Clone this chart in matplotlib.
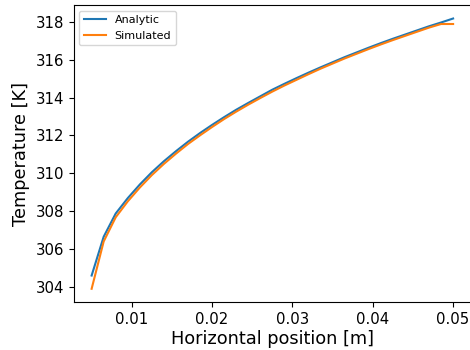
import matplotlib
matplotlib.use('Agg')
import matplotlib.pyplot as plt

# horizontal positions [m]
x = [0.005, 0.0065, 0.008, 0.0095, 0.011, 0.0125, 0.014, 0.0155, 0.017, 0.0185,
     0.02, 0.0215, 0.023, 0.0245, 0.026, 0.0275, 0.029, 0.0305, 0.032, 0.0335,
     0.035, 0.0365, 0.038, 0.0395, 0.041, 0.0425, 0.044, 0.0455, 0.047, 0.0485,
     0.05]

# temperatures [K]
analytic = [304.6, 306.65, 307.88, 308.69, 309.41, 310.06, 310.64, 311.17, 311.67, 312.13,
            312.56, 312.97, 313.36, 313.72, 314.07, 314.42, 314.73, 315.03, 315.32, 315.6,
            315.87, 316.14, 316.39, 316.64, 316.88, 317.11, 317.33, 317.55, 317.77, 317.97,
            318.18]
simulated = [303.9, 306.4, 307.68, 308.52, 309.25, 309.91, 310.5, 311.04, 311.55, 312.01,
             312.45, 312.87, 313.26, 313.63, 313.98, 314.32, 314.64, 314.94, 315.24, 315.53,
             315.8, 316.07, 316.32, 316.57, 316.81, 317.04, 317.26, 317.48, 317.7, 317.89,
             317.89]

fig = plt.figure(figsize=(4.7, 3.5), dpi=100)
ax = fig.add_axes([0.1565, 0.1363, 0.846, 0.8494])

ax.plot(x, analytic, label='Analytic')
ax.plot(x, simulated, label='Simulated')

ax.set_xticks([0.01, 0.02, 0.03, 0.04, 0.05])
ax.set_yticks([304, 306, 308, 310, 312, 314, 316, 318])
ax.tick_params(labelsize=10.7)
ax.set_xlabel('Horizontal position [m]', fontsize=12.8, labelpad=2)
ax.set_ylabel('Temperature [K]', fontsize=12.8)
ax.legend(loc='upper left', fontsize=8)

fig.savefig('out.png', dpi=100)
